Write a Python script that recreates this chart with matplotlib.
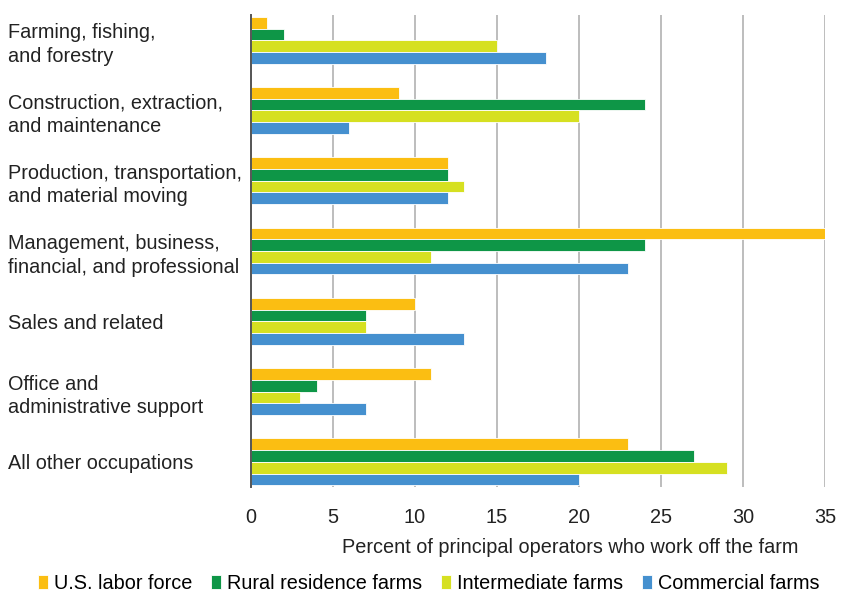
import matplotlib
matplotlib.use("Agg")
import matplotlib.pyplot as plt
import numpy as np

plt.rcParams['font.family'] = ['Liberation Sans', 'DejaVu Sans']

# data
categories = [
    "Farming, fishing,\nand forestry",
    "Construction, extraction,\nand maintenance",
    "Production, transportation,\nand material moving",
    "Management, business,\nfinancial, and professional",
    "Sales and related",
    "Office and\nadministrative support",
    "All other occupations",
]
series_names = ["U.S. labor force", "Rural residence farms",
                "Intermediate farms", "Commercial farms"]
us_labor = [1, 9, 12, 35, 10, 11, 23]
rural_res = [2, 24, 12, 24, 7, 4, 27]
intermediate = [15, 20, 13, 11, 7, 3, 29]
commercial = [18, 6, 12, 23, 13, 7, 20]
colors = ["#FBBE12", "#0E9647", "#D6E021", "#4590CF"]
xticks = [0, 5, 10, 15, 20, 25, 30, 35]

FS = 14.3
TXT = "#222222"

fig = plt.figure(figsize=(8.41, 5.97), dpi=100)
ax = fig.add_axes([0.2985, 0.184, 0.6825, 0.791])

y = np.arange(len(categories))
h = 1 / 6
all_series = [us_labor, rural_res, intermediate, commercial]
for k, (vals, col, name) in enumerate(zip(all_series, colors, series_names)):
    ax.barh(y + (k - 1.5) * h, vals, height=h, color=col, label=name,
            edgecolor="white", linewidth=0.6, zorder=3)

ax.set_ylim(len(categories) - 1 + 0.36, -0.36)
ax.set_xlim(0, 35)
ax.set_xticks(xticks)
ax.set_xticklabels([str(t) for t in xticks], fontsize=FS, color=TXT)
ax.tick_params(axis="x", length=0, pad=15)
ax.tick_params(axis="y", length=0)

ax.set_yticks(y)
ax.set_yticklabels(categories, fontsize=FS, color=TXT, ha="left",
                   linespacing=1.3)
ax.tick_params(axis="y", pad=175)

ax.grid(axis="x", color="#BDBDBD", linewidth=1.4, zorder=0)
ax.set_axisbelow(True)
for s in ["top", "right", "bottom"]:
    ax.spines[s].set_visible(False)
ax.spines["left"].set_color("#555555")
ax.spines["left"].set_linewidth(1.4)
ax.spines["left"].set_zorder(4)

ax.set_xlabel("Percent of principal operators who work off the farm",
              fontsize=FS, color=TXT)
ax.xaxis.set_label_coords(0.556, -0.107)

fig.legend(loc="center", bbox_to_anchor=(0.51, 0.023), ncol=4,
           frameon=False, fontsize=FS, handlelength=0.5, handleheight=0.75,
           handletextpad=0.3, columnspacing=0.95, borderaxespad=0)

fig.savefig("out.png", dpi=100)
